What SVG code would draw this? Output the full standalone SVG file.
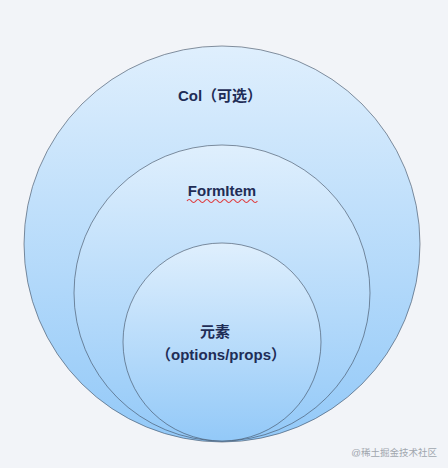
<svg xmlns="http://www.w3.org/2000/svg" width="448" height="468" viewBox="0 0 448 468">
<defs>
<linearGradient id="g" x1="0" y1="0" x2="0" y2="1">
<stop offset="0" stop-color="#dfeffd"/>
<stop offset="1" stop-color="#93c9f8"/>
</linearGradient>
<style>
.c{fill:url(#g);stroke:#3d4a5c;stroke-width:0.6}
.t{font-family:"Liberation Sans","Noto Sans CJK SC",sans-serif;font-size:15px;font-weight:bold;fill:#1f2d56;text-anchor:middle}
.w{font-family:"Liberation Sans","Noto Sans CJK SC",sans-serif;font-size:9.5px;fill:#a0a6ae;text-anchor:end}
</style>
</defs>
<rect width="448" height="468" fill="#f2f4f8"/>
<g id="col">
<circle class="c" cx="222" cy="244" r="198"/>
<text class="t" x="220" y="101">Col（可选）</text>
</g>
<g id="formitem">
<circle class="c" cx="222" cy="293" r="148"/>
<text class="t" x="222" y="196">FormItem</text>
<path d="M187 201 q2.2 -3 4.4 0 t4.4 0 t4.4 0 t4.4 0 t4.4 0 t4.4 0 t4.4 0 t4.4 0 t4.4 0 t4.4 0 t4.4 0 t4.4 0 t4.4 0 t4.4 0 t4.4 0 t4.4 0" fill="none" stroke="#e0383a" stroke-width="1.2"/>
</g>
<g id="element">
<circle class="c" cx="222" cy="342" r="99"/>
<text class="t" x="215" y="337">元素</text>
<text class="t" x="221" y="360">（options/props）</text>
</g>
<g id="connectors"></g>
<text class="w" x="437" y="456">@稀土掘金技术社区</text>
</svg>
